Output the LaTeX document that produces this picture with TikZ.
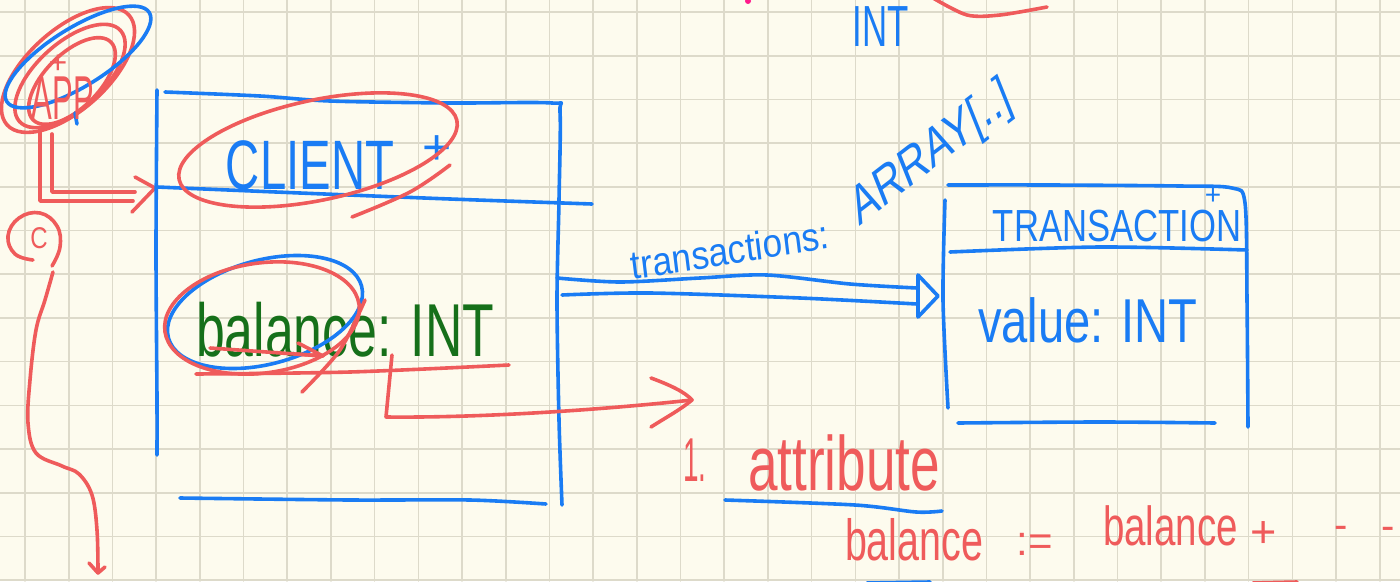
\documentclass[tikz,border=0pt]{standalone}
\usepackage{fontspec}
\setmainfont{Liberation Sans}
\usetikzlibrary{calc}
\definecolor{paper}{HTML}{FDFBEE}
\definecolor{gridc}{HTML}{DDDACA}
\definecolor{ink}{HTML}{1A7CF4}
\definecolor{pen}{HTML}{EF5B5B}
\definecolor{moss}{HTML}{16701A}
\definecolor{pinkdot}{HTML}{FF1A8C}
\newcommand{\fs}[1]{\fontsize{#1}{#1}\selectfont}
\begin{document}
\begin{tikzpicture}[x=1pt,y=-1pt,line cap=round,line join=round,
  bl/.style={draw=ink,line width=3.6pt},
  rd/.style={draw=pen,line width=3.6pt},
  gridline/.style={draw=gridc,line width=1.6pt},
  word/.style={inner sep=0pt,outer sep=0pt},
  bluetxt/.style={word,text=ink},
  redtxt/.style={word,text=pen},
  greentxt/.style={word,text=moss}]
\useasboundingbox (0,0) rectangle (1400,581);
\fill[paper] (0,0) rectangle (1400,581);
\clip (0,0) rectangle (1400,581);
% squared paper
\foreach \i in {0,...,31} \draw[gridline] ({25+43.7*\i},0) -- ({25+43.7*\i},581);
\foreach \j in {0,...,13} \draw[gridline] (0,{12+43.7*\j}) -- (1400,{12+43.7*\j});

% ---------- APP ----------
\draw[rd,rotate around={42:(68,70)}] (68,70) ellipse [x radius=82pt,y radius=40pt];
\draw[rd,rotate around={42:(70,76)}] (70,76) ellipse [x radius=68pt,y radius=33pt];
\draw[rd,rotate around={45:(72,81)}] (72,81) ellipse [x radius=55pt,y radius=27pt];
\draw[bl,rotate around={32:(78,57)}] (78,57) ellipse [x radius=84pt,y radius=29pt];
\draw[bl] (75,113) -- (77,124);
\node[redtxt,font=\fs{62},xscale=.5] (app) at (63,98) {APP};
\node[redtxt,font=\fs{32}] (appplus) at (58,64) {+};

% hollow arrow from APP into CLIENT
\coordinate (appfoot1) at (40,130);
\coordinate (appfoot2) at (52,134);
\coordinate (clientin) at (155,188);
\draw[rd] (appfoot1) |- (133,201);
\draw[rd] (appfoot2) |- (135,192);
\draw[rd] (135,177) -- (clientin) -- (132,212);

% ---------- C with its long line ----------
\node[redtxt,font=\fs{30},xscale=.8] (cmark) at (39,238) {C};
\draw[rd] plot[smooth,tension=.7] coordinates
  {(52,266) (60,247) (57,226) (40,213) (19,218) (8,236) (15,254) (33,260)};
\coordinate (cbottom) at (98,573);
\draw[rd] plot[smooth,tension=.6] coordinates
  {(53,272) (45,300) (36,330) (30,380) (28,423) (36,453) (62,466) (79,474) (92,495) (97,530) (cbottom)};
\draw[rd] (89,563) -- (cbottom) -- (105,567);

% ---------- CLIENT box ----------
\draw[bl] plot[smooth,tension=.5] coordinates {(157,90) (156,250) (157,400) (157,455)};
\draw[bl] plot[smooth,tension=.5] coordinates
  {(165,92) (260,96) (330,101) (450,103) (552,103) (560,112) (559,200) (557,300) (559,420) (562,505)};
\draw[bl] plot[smooth,tension=.5] coordinates {(157,187) (300,193) (450,199) (592,204)};
\draw[bl] plot[smooth,tension=.5] coordinates {(180,498) (350,500) (470,500) (546,504)};
\node[bluetxt,font=\fs{70},xscale=.675] (client) at (310,165) {CLIENT};
\node[bluetxt,font=\fs{50}] (clientplus) at (437,150) {+};
\draw[rd,rotate around={12:(318,150)}] (318,150) ellipse [x radius=142pt,y radius=50pt];
\draw[rd] plot[smooth,tension=.6] coordinates {(450,165) (410,192) (352,217)};

% balance: INT
\node[greentxt,font=\fs{75},xscale=.69,anchor=base west] (balance) at (196,356) {balance: INT};
\draw[bl,rotate around={15:(265,312)}] (265,312) ellipse [x radius=100pt,y radius=52pt];
\draw[rd,rotate around={8:(262,318)}] (262,318) ellipse [x radius=98pt,y radius=55pt];
\draw[rd] plot[smooth] coordinates {(365,300) (340,350) (302,392)};
\draw[rd] plot[smooth] coordinates {(196,374) (350,372) (509,365)};
\draw[rd] (210,348) -- (323,356);
\draw[rd] (298,343) -- (323,356) -- (296,354);

% bent arrow from balance to the note below
\coordinate (balfoot) at (392,355);
\coordinate (notetip) at (692,400);
\draw[rd] (balfoot) -- (386,417) .. controls (480,418) and (600,410) .. (notetip);
\draw[rd] (651,378) .. controls (670,385) and (685,392) .. (notetip) .. controls (680,410) and (665,418) .. (651,427);

% ---------- TRANSACTION box ----------
\draw[bl] plot[smooth,tension=.5] coordinates
  {(948,185) (1050,185) (1180,186) (1232,188) (1245,203) (1247,300) (1248,427)};
\draw[bl] plot[smooth,tension=.5] coordinates {(945,200) (943,300) (948,408)};
\draw[bl] plot[smooth,tension=.5] coordinates {(950,252) (1100,247) (1247,250)};
\draw[bl] plot[smooth,tension=.5] coordinates {(958,423) (1100,422) (1215,423)};
\node[bluetxt,font=\fs{45},xscale=.77] (transaction) at (1117,226) {TRANSACTION};
\node[bluetxt,font=\fs{28}] (trplus) at (1213,196) {+};
\node[bluetxt,font=\fs{62},xscale=.76,anchor=base west] (value) at (978,342) {value: INT};

% double arrow CLIENT -> TRANSACTION
\coordinate (dfrom1) at (557,278);
\coordinate (dfrom2) at (562,295);
\coordinate (dto) at (938,296);
\draw[bl] plot[smooth,tension=.5] coordinates {(dfrom1) (620,282) (700,278) (767,275) (850,284) (917,288)};
\draw[bl] plot[smooth,tension=.5] coordinates {(dfrom2) (650,293) (800,298) (917,304)};
\draw[bl] (918,275) -- (dto) -- (918,317) -- cycle;
\node[bluetxt,font=\fs{40},xscale=.88,rotate=8] (trlabel) at (730,250) {transactions:};
\node[bluetxt,font=\fs{55},xscale=.72,rotate=29] (arraylabel) at (932,154) {ARRAY[..]};

% top edge remnants
\node[bluetxt,font=\fs{58},xscale=.6] (topint) at (881,27) {INT};
\draw[rd] plot[smooth] coordinates {(933,-2) (967,15) (1000,15) (1047,7)};
\fill[pinkdot] (748,1) circle (3pt);

% ---------- note ----------
\node[redtxt,font=\fs{62},xscale=.45] (num) at (695,460) {1.};
\node[redtxt,font=\fs{77},xscale=.69,anchor=base west] (attr) at (748,490) {attribute};
\draw[bl] plot[smooth] coordinates {(725,500) (855,505) (916,512) (942,511)};
\node[redtxt,font=\fs{58},xscale=.68,anchor=base west] (bal1) at (845,560) {balance};
\node[redtxt,font=\fs{42}] (assign) at (1035,544) {:=};
\node[redtxt,font=\fs{55},xscale=.7,anchor=base west] (bal2) at (1103,545) {balance};
\node[redtxt,font=\fs{45}] (plus) at (1264,535) {+};
\node[redtxt,font=\fs{40}] (dash1) at (1341,532) {-};
\node[redtxt,font=\fs{40}] (dash2) at (1388,533) {-};
% bottom edge remnants
\draw[bl] (867,583) -- (930,582);
\draw[rd] (1253,583) -- (1297,582);
\end{tikzpicture}
\end{document}
